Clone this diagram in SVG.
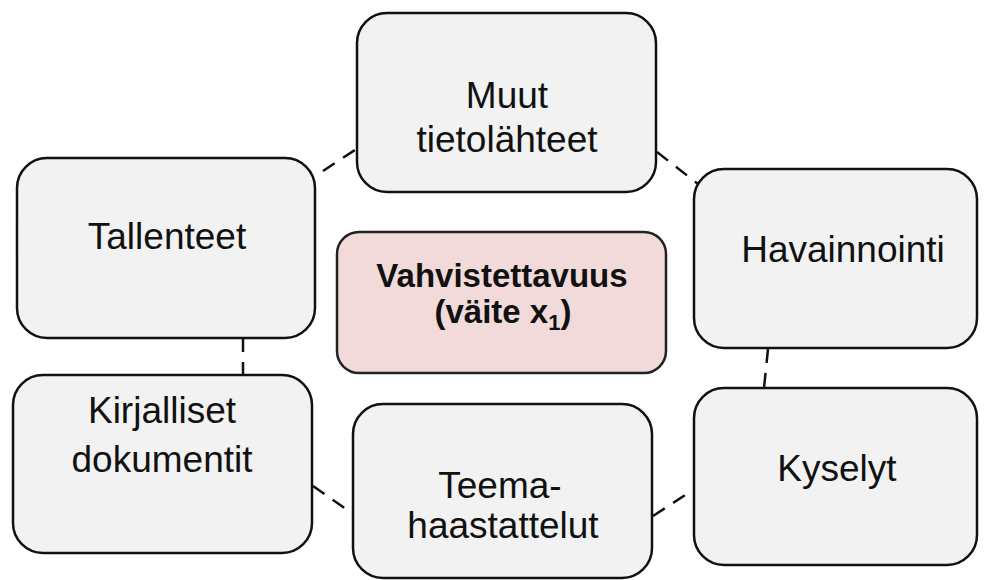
<svg xmlns="http://www.w3.org/2000/svg" width="987" height="580" viewBox="0 0 987 580">
<style>
.box{fill:#f2f2f2;stroke:#111;stroke-width:2.5}
.main{fill:#f2dada;stroke:#222;stroke-width:2.5}
.t{font-family:"Liberation Sans",Arial,sans-serif;font-size:37px;fill:#111;text-anchor:middle}
.b{font-family:"Liberation Sans",Arial,sans-serif;font-size:33px;font-weight:bold;fill:#111;text-anchor:middle}
.c{stroke:#111;stroke-width:2.5;stroke-dasharray:14 10;fill:none}
</style>
<rect width="987" height="580" fill="#fff"/>
<g id="connectors">
<line class="c" x1="323" y1="171" x2="358" y2="148"/>
<line class="c" x1="657" y1="152" x2="698" y2="184"/>
<line class="c" x1="243" y1="338" x2="243" y2="375"/>
<line class="c" x1="768" y1="349" x2="764" y2="388"/>
<line class="c" x1="313" y1="486" x2="353" y2="514"/>
<line class="c" x1="653" y1="516" x2="693" y2="490"/>
</g>
<g id="muut">
<rect class="box" x="357" y="13" width="299" height="179" rx="30"/>
<text class="t" x="507" y="108">Muut</text>
<text class="t" x="507" y="152">tietolähteet</text>
</g>
<g id="tallenteet">
<rect class="box" x="17" y="158" width="298" height="180" rx="30"/>
<text class="t" x="167" y="249">Tallenteet</text>
</g>
<g id="havainnointi">
<rect class="box" x="694" y="169" width="283" height="179" rx="30"/>
<text class="t" x="843" y="262">Havainnointi</text>
</g>
<g id="vahvistettavuus">
<rect class="main" x="337" y="232" width="329" height="141" rx="22"/>
<text class="b" x="502" y="287">Vahvistettavuus</text>
<text class="b" x="503" y="323">(väite x<tspan font-size="22" dy="7">1</tspan><tspan dy="-7">)</tspan></text>
</g>
<g id="kirjalliset">
<rect class="box" x="13" y="375" width="299" height="178" rx="30"/>
<text class="t" x="162" y="423">Kirjalliset</text>
<text class="t" x="162" y="472">dokumentit</text>
</g>
<g id="teema">
<rect class="box" x="353" y="404" width="299" height="174" rx="30"/>
<text class="t" x="500" y="498">Teema-</text>
<text class="t" x="503" y="538">haastattelut</text>
</g>
<g id="kyselyt">
<rect class="box" x="694" y="388" width="283" height="177" rx="30"/>
<text class="t" x="837" y="481">Kyselyt</text>
</g>
</svg>
